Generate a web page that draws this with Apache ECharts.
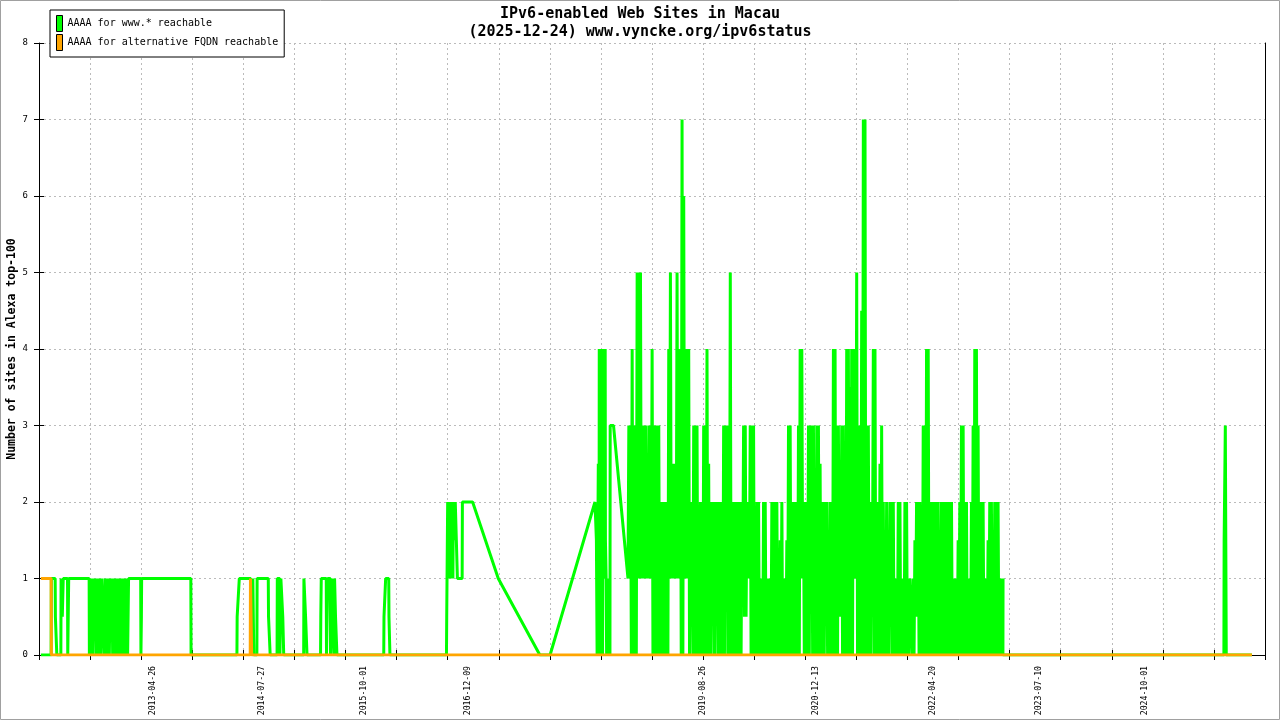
<!DOCTYPE html>
<html><head><meta charset="utf-8">
<script src="https://cdn.jsdelivr.net/npm/echarts@6/dist/echarts.min.js"></script>
<style>html,body{margin:0;padding:0;background:#fff}#c{width:1280px;height:720px}</style>
</head><body><div id="c"></div>
<script>
const titleLines = ['IPv6-enabled Web Sites in Macau', '(2025-12-24) www.vyncke.org/ipv6status'];
const seriesNames = ['AAAA for www.* reachable', 'AAAA for alternative FQDN reachable'];
const yAxisName = 'Number of sites in Alexa top-100';
const axisStart = '2012-01-02';
const tickDays = 215;
const tickCount = 24;
const xTickLabels = ['2013-04-26','2014-07-27','2015-10-01','2016-12-09','2019-08-26','2020-12-13','2022-04-20','2023-07-10','2024-10-01'];
const yMin = 0, yMax = 8, yStep = 1;

// AAAA for www.* reachable: explicit points 2012 - 2018
const wwwPoints = [
['2012-01-10',0],['2012-02-22',0],['2012-02-23',1],['2012-03-10',1],['2012-03-11',0.5],['2012-03-16',0.5],['2012-03-17',0],['2012-04-03',0],['2012-04-04',1],['2012-04-08',1],['2012-04-09',0.5],['2012-04-12',0.5],['2012-04-13',1],['2012-05-01',1],['2012-05-02',0],['2012-05-05',0],['2012-05-06',1],['2012-07-31',1],
['2012-08-01',0],['2012-08-05',1],['2012-08-08',0],['2012-08-12',1],['2012-08-15',0],['2012-08-19',1],['2012-08-22',0.5],['2012-08-26',1],['2012-08-29',0],['2012-09-02',1],['2012-09-05',0],['2012-09-09',1],['2012-09-12',0],['2012-09-16',1],['2012-09-19',0],['2012-09-23',1],['2012-09-30',1],['2012-10-03',0],['2012-10-07',1],['2012-10-10',0],['2012-10-14',1],['2012-10-17',0],['2012-10-21',1],['2012-10-24',0],['2012-10-28',1],['2012-10-31',0.5],['2012-11-04',1],['2012-11-07',0],['2012-11-11',1],['2012-11-14',0],['2012-11-18',1],['2012-11-21',0],['2012-11-25',1],['2012-11-28',0],['2012-12-02',1],['2012-12-05',0],['2012-12-09',1],['2012-12-12',0],['2012-12-16',1],['2012-12-19',0],['2012-12-23',1],['2012-12-26',0],['2012-12-30',1],['2013-01-02',0],['2013-01-06',1],['2013-01-09',0],
['2013-01-13',1],['2013-03-05',1],['2013-03-06',0],['2013-03-08',0.5],['2013-03-09',1],['2013-10-02',1],['2013-10-03',0],
['2014-04-14',0],['2014-04-15',0.5],['2014-04-23',0.5],['2014-04-24',1],['2014-06-11',1],['2014-06-12',0],['2014-06-19',0],['2014-06-20',1],['2014-06-23',1],['2014-06-24',0],['2014-07-07',0],['2014-07-08',1],['2014-08-24',1],['2014-08-25',0.5],['2014-08-31',0.5],['2014-09-01',0],
['2014-09-30',0],['2014-10-01',1],['2014-10-11',1],['2014-10-12',0],['2014-10-15',0],['2014-10-16',1],['2014-10-23',1],['2014-10-24',0.5],['2014-10-27',0.5],['2014-10-28',0],
['2015-01-20',0],['2015-01-21',1],['2015-01-27',1],['2015-01-28',0.5],['2015-02-02',0.5],['2015-02-03',0],
['2015-04-01',0],['2015-04-02',0.5],['2015-04-03',0.5],['2015-04-04',1],['2015-04-25',1],['2015-04-26',0],['2015-04-30',0],['2015-05-01',1],['2015-05-12',1],['2015-05-13',0],['2015-05-17',0],['2015-05-18',1],['2015-05-26',1],['2015-05-27',0],['2015-05-29',0],['2015-05-30',1],['2015-06-02',1],['2015-06-03',0.5],['2015-06-08',0.5],['2015-06-09',0],
['2015-12-23',0],['2015-12-24',0.5],['2015-12-30',0.5],['2015-12-31',1],['2016-01-13',1],['2016-01-14',0.5],['2016-01-17',0.5],['2016-01-18',0],
['2016-09-12',0],['2016-09-13',0.5],['2016-09-16',0.5],['2016-09-17',2],['2016-09-19',1],['2016-09-21',2],['2016-09-23',1],['2016-09-25',2],['2016-09-27',1],['2016-09-29',2],['2016-10-01',1],['2016-10-03',2],['2016-10-05',1],['2016-10-07',2],['2016-10-09',1],['2016-10-11',2],['2016-10-13',1.5],['2016-10-15',2],['2016-10-17',1.5],['2016-10-19',2],['2016-10-27',2],['2016-10-28',1],['2016-11-17',1],['2016-11-18',2],['2016-12-31',2],
['2017-04-18',1],['2017-10-10',0],['2017-11-22',0],['2018-05-30',2],
['2018-06-04',2],['2018-06-05',1.5],['2018-06-08',0],['2018-06-12',0],['2018-06-13',2.5],['2018-06-16',0],['2018-06-17',4],['2018-06-19',0],['2018-06-21',4],['2018-06-23',0],['2018-06-25',4],['2018-06-27',0],['2018-06-29',4],['2018-07-01',0],['2018-07-03',4],['2018-07-05',1],['2018-07-07',4],['2018-07-09',1],['2018-07-12',4],['2018-07-13',1.5],['2018-07-16',1],['2018-07-18',0],['2018-07-20',1],['2018-07-22',0],['2018-07-24',1],['2018-07-26',0],['2018-07-28',1],['2018-08-01',0],['2018-08-02',3],['2018-08-16',3]
];

// AAAA for www.* reachable, 2018-10-16 .. 2023-02-07: per week, the low at week start and the high at mid-week
const wwwWeeklyStart = '2018-10-16';
const wwwWeeklyStepDays = 7;
const wwwWeeklyLow = [
1,1,0,0,0,0,1,1,1,1,
1,1,1,1,1,0,0,0,0,0,
0,0,0,0,0,1,1,1,1,1,
1,1,0,0,1,1,1,0,1,0,
0,0,0,0,0,0,0,0,0,0,
0,1,0,1,0,0,0,0,0,1,
0,0,0,0,0,0,0,0,0,1,
0.5,0.5,1,1,0,0,0,0,0,0,
0,0,0,0,0,0,0,0,0,0,
0,0,0,0,0,0,0,0,0,0,
0,0,0,0,1,1,0,0,0,0,
1,0,0,0,0,0,0,0,0,1,
0,0,0,0,0,0,0,0.5,0.5,0,
0,0,0,0,0,0,1,1,0,0,
0,0,0,0,0,0,0,1,0,0,
0,0,0,0,0,0,0,0,0.5,0,
0,0,0,0,0,0,0,0,0,0,
1,0,0,0.5,0.5,0,0,0,0,0,
0,0,0,0,0,0,0,0,0,0,
0,0,0,0,0,0,0,0,0,0,
0,0,0,0,0,0,0,0,0,0,
0,0,0,0,0,0,0,0,0,0,
0,0,0,0,0,0.5
];
const wwwWeeklyHigh = [
3,3,4,3,3,5,5,5,3,3,
3,2,3,3,4,3,3,3,3,2,
2,2,2,2,4,5,2,2.5,2,5,
4,4,7,6,4,4,4,2,2,3,
3,3,1.5,2,2,3,3,4,2.5,2,
2,2,2,2,2,2,2,3,3,3,
2,5,2,2,2,2,2,2,2,3,
3,2,2,3,3,3,1,2,2,1,
1,2,2,1,1,1,2,2,2,2,
1,1.5,2,1,1,1.5,3,3,2,2,
2,2,3,4,4,2,2,2,3,3,
3,3,2,3,3,2.5,2,2,2,2,
1,2,2,4,4,3,3,2,3,3,
1,4,4,3.5,4,4,4,5,3,3,
4.5,7,7,3,3,2,2,4,4,2,
2,2.5,3,2,1,2,1.5,2,2,2,
1,1,2,2,1,1,2,2,1,1,
1,1,1.5,2,2,2,1.5,3,3,4,
4,2,2,2,2,2,2,1.5,2,2,
2,2,2,2,2,1,1,1,1.5,2,
3,3,2,2,1,1,2,3,4,4,
3,2,2,2,1,1,1.5,2,2,1.5,
2,2,2,1,1,1
];

// AAAA for www.* reachable: after 2023
const wwwLatePoints = [
['2023-02-10',0],['2025-08-28',0],['2025-08-29',1.5],['2025-09-02',1.5],['2025-09-03',3],['2025-09-06',3],['2025-09-07',0],['2025-12-24',0]
];

// AAAA for alternative FQDN reachable
const altPoints = [
['2012-01-10',1],['2012-02-22',1],['2012-02-23',0],['2014-06-09',0],['2014-06-10',1],['2014-06-14',1],['2014-06-15',0],['2025-12-24',0]
];

const DAY = 86400000;
const baseMs = Date.parse(axisStart + 'T00:00:00Z');
function dayOf(s) { return Math.round((Date.parse(s + 'T00:00:00Z') - baseMs) / DAY); }
function dateOf(d) { return new Date(baseMs + Math.round(d) * DAY).toISOString().slice(0, 10); }

const wwwData = wwwPoints.map(p => [dayOf(p[0]), p[1]]);
const wStart = dayOf(wwwWeeklyStart);
wwwWeeklyLow.forEach((lo, i) => {
  wwwData.push([wStart + i * wwwWeeklyStepDays, lo]);
  wwwData.push([wStart + i * wwwWeeklyStepDays + wwwWeeklyStepDays / 2, wwwWeeklyHigh[i]]);
});
wwwLatePoints.forEach(p => wwwData.push([dayOf(p[0]), p[1]]));
const altData = altPoints.map(p => [dayOf(p[0]), p[1]]);

const FONT = "'DejaVu Sans Mono', monospace";
const gridLine = { show: true, lineStyle: { color: '#bbbbbb', type: [2, 3], width: 1 } };
const xMax = tickDays * tickCount;

const chart = echarts.init(document.getElementById('c'), null, { renderer: 'canvas' });
chart.setOption({
  animation: false,
  backgroundColor: '#ffffff',
  title: {
    text: titleLines.join('\n'), left: 'center', top: 5, padding: 0,
    textStyle: { fontFamily: FONT, fontSize: 15, fontWeight: 'bold', lineHeight: 18, color: '#000' }
  },
  legend: {
    data: seriesNames, icon: 'rect', orient: 'vertical', left: 50, top: 10,
    itemWidth: 6, itemHeight: 16, itemGap: 2, padding: [5, 6, 6, 6],
    borderColor: '#000', borderWidth: 1, backgroundColor: '#fff',
    itemStyle: { borderColor: '#000', borderWidth: 1 },
    textStyle: { fontFamily: FONT, fontSize: 10, color: '#000', padding: [3, 0, 0, 0] },
    z: 10
  },
  grid: { left: 39, right: 15, top: 43, bottom: 65, containLabel: false, outerBoundsMode: 'none' },
  xAxis: [
    {
      type: 'value', min: 0, max: xMax, interval: tickDays, position: 'bottom',
      axisLine: { show: true, lineStyle: { color: '#000', width: 1 } },
      axisTick: { show: true, length: 5, lineStyle: { color: '#000' } },
      axisLabel: {
        customValues: xTickLabels.map(dayOf),
        formatter: v => dateOf(v),
        rotate: 90, fontSize: 8.2, margin: 11, color: '#000', fontFamily: FONT
      },
      splitLine: gridLine
    },
    {
      type: 'value', min: 0, max: xMax, interval: tickDays, position: 'bottom', offset: 0,
      axisLine: { show: false }, axisTick: { show: true, inside: true, length: 5, lineStyle: { color: '#000' } },
      axisLabel: { show: false }, splitLine: { show: false }
    }
  ],
  yAxis: [
    {
      type: 'value', min: yMin, max: yMax, interval: yStep, position: 'left',
      name: yAxisName, nameLocation: 'middle', nameGap: 21, nameMoveOverlap: false,
      nameTextStyle: { fontFamily: FONT, fontSize: 11.5, fontWeight: 'bold', color: '#000' },
      axisLine: { show: true, lineStyle: { color: '#000', width: 1 } },
      axisTick: { show: true, length: 5, lineStyle: { color: '#000' } },
      axisLabel: { fontSize: 9, margin: 11, color: '#000', fontFamily: FONT },
      splitLine: gridLine
    },
    {
      type: 'value', min: yMin, max: yMax, interval: yStep, position: 'left', offset: 0,
      axisLine: { show: false }, axisTick: { show: true, inside: true, length: 5, lineStyle: { color: '#000' } },
      axisLabel: { show: false }, splitLine: { show: false }
    },
    {
      type: 'value', min: yMin, max: yMax, interval: yStep, position: 'right', offset: 0,
      axisLine: { show: true, lineStyle: { color: '#000', width: 1 } }, axisTick: { show: false },
      axisLabel: { show: false }, splitLine: { show: false }
    }
  ],
  series: [
    {
      name: seriesNames[0], type: 'line', xAxisIndex: 0, yAxisIndex: 0, data: wwwData,
      symbol: 'none', showSymbol: false, color: '#00ff00',
      lineStyle: { color: '#00ff00', width: 3, join: 'bevel' }, z: 2
    },
    {
      name: seriesNames[1], type: 'line', xAxisIndex: 0, yAxisIndex: 0, data: altData,
      symbol: 'none', showSymbol: false, color: '#ffa500',
      lineStyle: { color: '#ffa500', width: 3, join: 'bevel' }, z: 3
    }
  ],
  graphic: [{
    type: 'rect', shape: { x: 0.5, y: 0.5, width: 1279, height: 719 },
    style: { fill: null, stroke: '#a0a0a0', lineWidth: 1 }, silent: true
  }]
});
</script></body></html>
